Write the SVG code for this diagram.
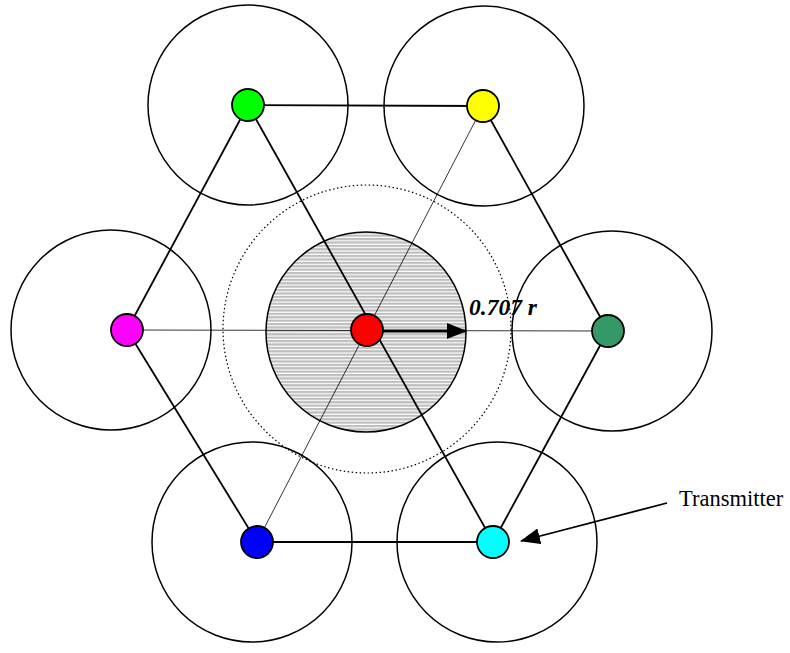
<svg xmlns="http://www.w3.org/2000/svg" width="790" height="653" viewBox="0 0 790 653">
  <style>
    .range { fill: none; stroke: #000; stroke-width: 1.5; }
    .link { stroke: #000; stroke-width: 1.8; fill: none; }
    .thin { stroke: #000; stroke-width: 0.8; fill: none; }
    .node { stroke: #000; stroke-width: 1.8; }
    .label { font-family: "Liberation Serif", "Times New Roman", serif; fill: #000; }
  </style>
  <defs>
    <pattern id="hatch" patternUnits="userSpaceOnUse" width="8" height="3.4">
      <rect width="8" height="3.4" fill="#bdbdbd"/>
      <rect y="2.2" width="8" height="1.2" fill="#ffffff"/>
    </pattern>
    <marker id="head" markerWidth="20" markerHeight="16" refX="19" refY="8" orient="auto" markerUnits="userSpaceOnUse" viewBox="0 0 20 16">
      <path d="M0,0 L20,8 L0,16 z" fill="#000"/>
    </marker>
  </defs>

  <rect width="790" height="653" fill="#fff"/>

  <!-- coverage ranges -->
  <g id="ranges">
    <circle cx="367" cy="329" r="144" fill="none" stroke="#000" stroke-width="1.2" stroke-dasharray="1.5 2.5"/>
    <circle cx="366" cy="332" r="100" fill="url(#hatch)" stroke="#000" stroke-width="1.5"/>
    <circle class="range" cx="248" cy="105" r="100"/>
    <circle class="range" cx="484" cy="106" r="100"/>
    <circle class="range" cx="111" cy="330" r="100"/>
    <circle class="range" cx="612" cy="331" r="100"/>
    <circle class="range" cx="252" cy="542" r="100"/>
    <circle class="range" cx="497" cy="542" r="100"/>
  </g>

  <!-- connectors -->
  <g id="connectors">
    <line class="link" x1="248" y1="105" x2="483" y2="106"/>
    <line class="link" x1="248" y1="105" x2="127" y2="330"/>
    <line class="link" x1="248" y1="105" x2="493" y2="542"/>
    <line class="link" x1="483" y1="106" x2="608" y2="331"/>
    <line class="link" x1="608" y1="331" x2="493" y2="542"/>
    <line class="link" x1="127" y1="330" x2="257" y2="542"/>
    <line class="link" x1="257" y1="542" x2="493" y2="542"/>
    <line class="thin" x1="127" y1="330" x2="608" y2="331"/>
    <line class="thin" x1="483" y1="106" x2="257" y2="542"/>
    <line x1="367" y1="331" x2="466" y2="331" stroke="#000" stroke-width="3" marker-end="url(#head)"/>
    <line x1="667" y1="503" x2="521" y2="541" stroke="#000" stroke-width="1.8" marker-end="url(#head)"/>
  </g>

  <!-- nodes -->
  <g id="n-green"><circle class="node" cx="248" cy="105" r="16" fill="#00ff00"/></g>
  <g id="n-yellow"><circle class="node" cx="483" cy="106" r="16" fill="#ffff00"/></g>
  <g id="n-magenta"><circle class="node" cx="127" cy="330" r="16" fill="#ff00ff"/></g>
  <g id="n-seagreen"><circle class="node" cx="608" cy="331" r="16" fill="#339966"/></g>
  <g id="n-blue"><circle class="node" cx="257" cy="542" r="16" fill="#0000ff"/></g>
  <g id="n-cyan"><circle class="node" cx="493" cy="542" r="16" fill="#00ffff"/></g>
  <g id="n-center"><circle class="node" cx="367" cy="330" r="16" fill="#ff0000"/></g>

  <!-- labels -->
  <g id="labels">
    <text class="label" x="469" y="315" font-size="23.5" font-weight="bold" font-style="italic">0.707 r</text>
    <text class="label" x="679" y="506" font-size="22.5">Transmitter</text>
  </g>
</svg>
